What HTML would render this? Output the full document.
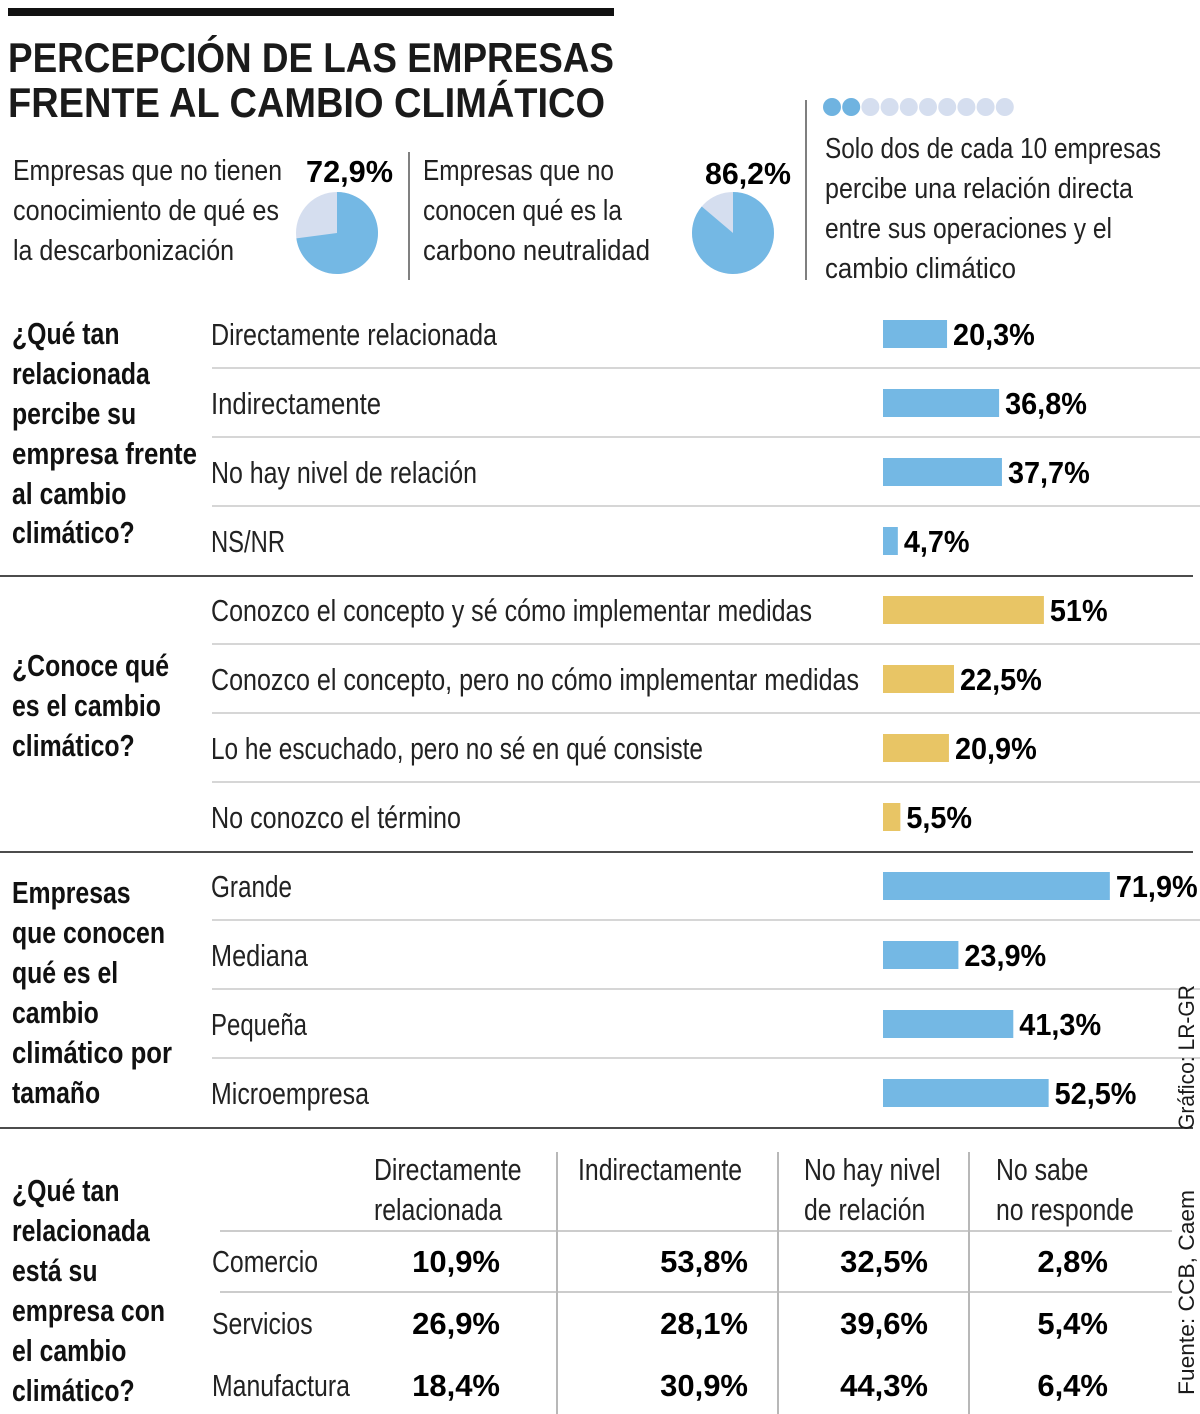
<!DOCTYPE html>
<html><head><meta charset="utf-8">
<style>
html,body{margin:0;padding:0;background:#fff;}
svg{display:block;}
text{font-family:"Liberation Sans Narrow","Liberation Sans",sans-serif;fill:#1a1a1a;}
.lbl{font-size:31px;fill:#222;}
.q{font-size:31px;font-weight:bold;fill:#111;}
.val{font-size:31px;font-weight:bold;fill:#000;}
.top{font-size:29px;fill:#222;}
</style></head>
<body>
<svg id="chart" width="1200" height="1414" viewBox="0 0 1200 1414">
<rect x="8" y="8" width="606" height="8" fill="#111"/>
<text x="8" y="72" font-size="42" font-weight="bold" fill="#111" textLength="606" lengthAdjust="spacingAndGlyphs">PERCEPCIÓN DE LAS EMPRESAS</text>
<text x="8" y="117" font-size="42" font-weight="bold" fill="#111" textLength="597" lengthAdjust="spacingAndGlyphs">FRENTE AL CAMBIO CLIMÁTICO</text>

<g>
<text class="top" x="13" y="180" textLength="269" lengthAdjust="spacingAndGlyphs">Empresas que no tienen</text>
<text class="top" x="13" y="220" textLength="266" lengthAdjust="spacingAndGlyphs">conocimiento de qué es</text>
<text class="top" x="13" y="260" textLength="221" lengthAdjust="spacingAndGlyphs">la descarbonización</text>
<text class="val" x="306" y="182" textLength="87" lengthAdjust="spacingAndGlyphs">72,9%</text>
</g>
<line x1="409" y1="152" x2="409" y2="280" stroke="#555" stroke-width="1.5"/>
<g>
<text class="top" x="423" y="180" textLength="191" lengthAdjust="spacingAndGlyphs">Empresas que no</text>
<text class="top" x="423" y="220" textLength="199" lengthAdjust="spacingAndGlyphs">conocen qué es la</text>
<text class="top" x="423" y="260" textLength="227" lengthAdjust="spacingAndGlyphs">carbono neutralidad</text>
<text class="val" x="705" y="184" textLength="86" lengthAdjust="spacingAndGlyphs">86,2%</text>
</g>
<line x1="806" y1="100" x2="806" y2="280" stroke="#555" stroke-width="1.5"/>
<g id="dots"></g>
<g>
<text class="top" x="825" y="158" textLength="336" lengthAdjust="spacingAndGlyphs">Solo dos de cada 10 empresas</text>
<text class="top" x="825" y="198" textLength="308" lengthAdjust="spacingAndGlyphs">percibe una relación directa</text>
<text class="top" x="825" y="238" textLength="287" lengthAdjust="spacingAndGlyphs">entre sus operaciones y el</text>
<text class="top" x="825" y="278" textLength="191" lengthAdjust="spacingAndGlyphs">cambio climático</text>
</g>
<g id="pies"></g>

<g>
<text class="q sq" x="12" y="344">¿Qué tan</text>
<text class="q sq" x="12" y="384">relacionada</text>
<text class="q sq" x="12" y="424">percibe su</text>
<text class="q" x="12" y="464" textLength="185" lengthAdjust="spacingAndGlyphs">empresa frente</text>
<text class="q sq" x="12" y="504">al cambio</text>
<text class="q sq" x="12" y="543">climático?</text>
</g>
<g>
<text class="q sq" x="12" y="676">¿Conoce qué</text>
<text class="q sq" x="12" y="716">es el cambio</text>
<text class="q sq" x="12" y="756">climático?</text>
</g>
<g>
<text class="q sq" x="12" y="903">Empresas</text>
<text class="q sq" x="12" y="943">que conocen</text>
<text class="q sq" x="12" y="983">qué es el</text>
<text class="q sq" x="12" y="1023">cambio</text>
<text class="q" x="12" y="1063" textLength="160" lengthAdjust="spacingAndGlyphs">climático por</text>
<text class="q sq" x="12" y="1103">tamaño</text>
</g>
<g>
<text class="q sq" x="12" y="1201">¿Qué tan</text>
<text class="q sq" x="12" y="1241">relacionada</text>
<text class="q sq" x="12" y="1281">está su</text>
<text class="q sq" x="12" y="1321">empresa con</text>
<text class="q sq" x="12" y="1361">el cambio</text>
<text class="q sq" x="12" y="1401">climático?</text>
</g>

<g id="bars"></g>
<g id="table"></g>

<text x="1194" y="1130" font-size="22" fill="#444" transform="rotate(-90 1194 1130)" textLength="145" lengthAdjust="spacingAndGlyphs">Gráfico: LR-GR</text>
<text x="1194" y="1395" font-size="22" fill="#444" transform="rotate(-90 1194 1395)" textLength="205" lengthAdjust="spacingAndGlyphs">Fuente: CCB, Caem</text>
</svg>
<script>
const pieValues = [72.9, 86.2];
const dotsFilled = 2;
const dotsTotal = 10;
const q1Labels = ["Directamente relacionada","Indirectamente","No hay nivel de relación","NS/NR"];
const q1Values = [20.3, 36.8, 37.7, 4.7];
const q2Labels = ["Conozco el concepto y sé cómo implementar medidas","Conozco el concepto, pero no cómo implementar medidas","Lo he escuchado, pero no sé en qué consiste","No conozco el término"];
const q2Values = [51, 22.5, 20.9, 5.5];
const q3Labels = ["Grande","Mediana","Pequeña","Microempresa"];
const q3Values = [71.9, 23.9, 41.3, 52.5];
const tableCols = [["Directamente","relacionada"],["Indirectamente"],["No hay nivel","de relación"],["No sabe","no responde"]];
const tableRows = ["Comercio","Servicios","Manufactura"];
const tableDirect = [10.9, 26.9, 18.4];
const tableIndirect = [53.8, 28.1, 30.9];
const tableNone = [32.5, 39.6, 44.3];
const tableNsnr = [2.8, 5.4, 6.4];

const NS = "http://www.w3.org/2000/svg";
function mk(tag, attrs, parent){const e=document.createElementNS(NS,tag);for(const k in attrs)e.setAttribute(k,attrs[k]);parent.appendChild(e);return e;}
const fmt = v => String(v).replace('.',',') + '%';
const xScale = v => v * 3.155;
const BAR_X = 883;
const BLUE = "#74b8e4", GOLD = "#e8c565", LIGHT = "#d5deef";

const dg = document.getElementById('dots');
for (let i=0;i<dotsTotal;i++){
  const c = mk('circle',{cx:832+i*19.2,cy:107,r:9,fill:i<dotsFilled?"#6fb3e0":LIGHT},dg);
  
  
}
const pg = document.getElementById('pies');
const pieCenters = [[337,233],[733,233]];
pieValues.forEach((v,i)=>{
  const [cx,cy]=pieCenters[i], r=41;
  const bg = mk('circle',{cx,cy,r,fill:LIGHT},pg);
  
  
  const a = v/100*2*Math.PI;
  const x2 = cx + r*Math.sin(a), y2 = cy - r*Math.cos(a);
  const large = v>50?1:0;
  const p = mk('path',{d:`M${cx},${cy} L${cx},${cy-r} A${r},${r} 0 ${large} 1 ${x2},${y2} Z`,fill:BLUE},pg);
  
  
});

const bg = document.getElementById('bars');
const groups = [[q1Labels,q1Values,BLUE,334],[q2Labels,q2Values,GOLD,610],[q3Labels,q3Values,BLUE,886]];
const labelWidths = [[286,170,266,74],[601,648,492,250],[81,97,96,158]];
groups.forEach((g,gi)=>{
  const [labels,values,color,y0]=g;
  labels.forEach((lab,i)=>{
    const cy = y0 + i*69;
    const t = mk('text',{class:'lbl',x:211,y:cy+11,textLength:labelWidths[gi][i],lengthAdjust:'spacingAndGlyphs'},bg);
    t.textContent = lab;
    
    
    const w = xScale(values[i]);
    const r = mk('rect',{x:BAR_X,y:cy-14,width:w,height:28,fill:color},bg);
    
    
    const vt = mk('text',{class:'val sv',x:BAR_X+w+6,y:cy+11},bg);
    vt.textContent = fmt(values[i]);
    
    
    if (i<3){
      const l = mk('line',{x1:212,x2:1200,y1:cy+34,y2:cy+34,stroke:'#c8c8c8','stroke-width':1.5},bg);
      
      
    }
  });
  const by = y0 + 3*69 + 35;
  const bl = mk('line',{x1:0,x2:1193,y1:by,y2:by,stroke:'#111','stroke-width':1.5},bg);
  
  
});

const tg = document.getElementById('table');
const colRight = [500,748,928,1108];
const colHeadX = [374,578,804,996];
[557,778,969].forEach(x=>{
  const l = mk('line',{x1:x,x2:x,y1:1152,y2:1414,stroke:'#888','stroke-width':1.2},tg);
  
  
});
[1231,1292].forEach(y=>{
  const l = mk('line',{x1:220,x2:1172,y1:y,y2:y,stroke:'#bbb','stroke-width':1.5},tg);
  
  
});
tableCols.forEach((lines,ci)=>{
  lines.forEach((ln,li)=>{
    const t = mk('text',{class:'lbl sq',x:colHeadX[ci],y:1180+li*40},tg);
    t.textContent = ln;
    
    
  });
});
const cols = [tableDirect,tableIndirect,tableNone,tableNsnr];
tableRows.forEach((rn,ri)=>{
  const y = 1272 + ri*62;
  const t = mk('text',{class:'lbl sq',x:212,y},tg);
  t.textContent = rn;
  
  
  cols.forEach((arr,ci)=>{
    const v = mk('text',{class:'val',x:colRight[ci],y,'text-anchor':'end'},tg);
    v.textContent = fmt(arr[ri]);
    
    
  });
});
// condense text lacking a narrow font
document.querySelectorAll('text.sq').forEach(t=>{
  const len = t.getComputedTextLength();
  t.setAttribute('textLength', (len*0.8).toFixed(1));
  t.setAttribute('lengthAdjust','spacingAndGlyphs');
});
document.querySelectorAll('text.sv').forEach(t=>{
  const len = t.getComputedTextLength();
  t.setAttribute('textLength', (len*0.93).toFixed(1));
  t.setAttribute('lengthAdjust','spacingAndGlyphs');
});
</script>
</body></html>
